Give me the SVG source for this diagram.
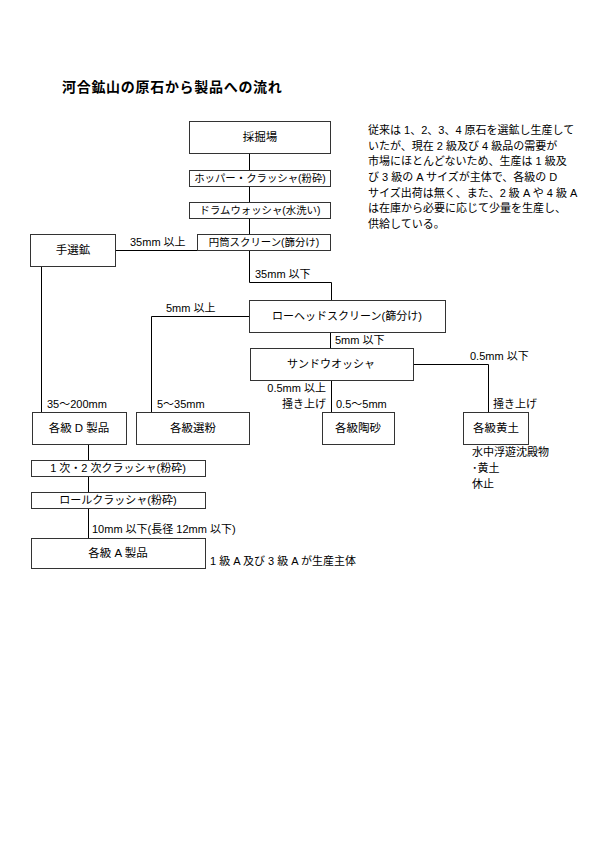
<svg xmlns="http://www.w3.org/2000/svg" width="595" height="842" viewBox="0 0 595 842">
<style>
text{font-family:"Liberation Sans","Noto Sans CJK JP",sans-serif;font-size:11px;fill:#000}
.t{font-size:14px;font-weight:bold;letter-spacing:0.7px}
.c{text-anchor:middle}
.r{text-anchor:end}
.s{font-size:10.4px}
.b{font-size:11.5px}
rect{fill:#fff;stroke:#333;stroke-width:1}
.ln{fill:none;stroke:#000;stroke-width:1}
</style>
<rect x="0" y="0" width="595" height="842" style="stroke:none"/>
<text class="t" x="62" y="92">河合鉱山の原石から製品への流れ</text>
<g id="note">
<text x="368" y="134">従来は 1、2、3、4 原石を選鉱し生産して</text>
<text x="368" y="150">いたが、現在 2 級及び 4 級品の需要が</text>
<text x="368" y="165">市場にほとんどないため、生産は 1 級及</text>
<text x="368" y="181">び 3 級の A サイズが主体で、各級の D</text>
<text x="368" y="197">サイズ出荷は無く、また、2 級 A や 4 級 A</text>
<text x="368" y="212">は在庫から必要に応じて少量を生産し、</text>
<text x="368" y="228">供給している。</text>
</g>
<g id="connectors">
<path class="ln" d="M249.5 153V170M249.5 186V202M249.5 218V234M115 250.5H197M249.5 250V282.5H331.5V300M249 316.5H151.5V412M41.5 266V412M330.5 332V348M413 364.5H488.5V412M331.5 380V412M88.5 444V460M88.5 476V492M88.5 508V538"/>
<text x="130" y="246">35mm 以上</text>
<text x="255" y="278">35mm 以下</text>
<text x="166" y="312">5mm 以上</text>
<text x="335" y="344">5mm 以下</text>
<text x="470" y="360">0.5mm 以下</text>
<text class="r" x="326" y="392">0.5mm 以上</text>
<text class="r" x="326" y="408">掻き上げ</text>
<text x="336" y="408">0.5～5mm</text>
<text x="493" y="408">掻き上げ</text>
<text x="47" y="408">35～200mm</text>
<text x="157" y="408">5～35mm</text>
<text x="92" y="533">10mm 以下(長径 12mm 以下)</text>
</g>
<g id="n1"><rect x="189.5" y="121.5" width="141" height="32"/><text class="c b" x="260" y="141">採掘場</text></g>
<g id="n2"><rect x="189.5" y="170.5" width="141" height="16"/><text class="c s" x="260" y="182">ホッパー・クラッシャ(粉砕)</text></g>
<g id="n3"><rect x="189.5" y="202.5" width="141" height="16"/><text class="c s" x="260" y="214">ドラムウォッシャ(水洗い)</text></g>
<g id="n4"><rect x="197.5" y="234.5" width="133" height="16"/><text class="c s" x="264" y="246">円筒スクリーン(篩分け)</text></g>
<g id="n5"><rect x="30.5" y="234.5" width="85" height="32"/><text class="c b" x="73" y="254">手選鉱</text></g>
<g id="n6"><rect x="249.5" y="300.5" width="196" height="32"/><text class="c" x="347" y="320">ローヘッドスクリーン(篩分け)</text></g>
<g id="n7"><rect x="250.5" y="348.5" width="163" height="32"/><text class="c" x="331" y="368">サンドウオッシャ</text></g>
<g id="n8"><rect x="32.5" y="412.5" width="94" height="32"/><text class="c b" x="79" y="432">各級 D 製品</text></g>
<g id="n9"><rect x="136.5" y="412.5" width="113" height="32"/><text class="c b" x="193" y="432">各級選粉</text></g>
<g id="n10"><rect x="322.5" y="412.5" width="72" height="32"/><text class="c b" x="358" y="432">各級陶砂</text></g>
<g id="n11"><rect x="463.5" y="412.5" width="65" height="32"/><text class="c b" x="496" y="432">各級黄土</text>
<text x="472" y="456">水中浮遊沈殿物</text><text x="472" y="472">･黄土</text><text x="472" y="488">休止</text></g>
<g id="n12"><rect x="31.5" y="460.5" width="174" height="16"/><text class="c" x="118" y="472">1 次・2 次クラッシャ(粉砕)</text></g>
<g id="n13"><rect x="31.5" y="492.5" width="174" height="16"/><text class="c" x="118" y="504">ロールクラッシャ(粉砕)</text></g>
<g id="n14"><rect x="31.5" y="538.5" width="174" height="30"/><text class="c b" x="118" y="557">各級 A 製品</text>
<text x="210" y="565">1 級 A 及び 3 級 A が生産主体</text></g>
</svg>
